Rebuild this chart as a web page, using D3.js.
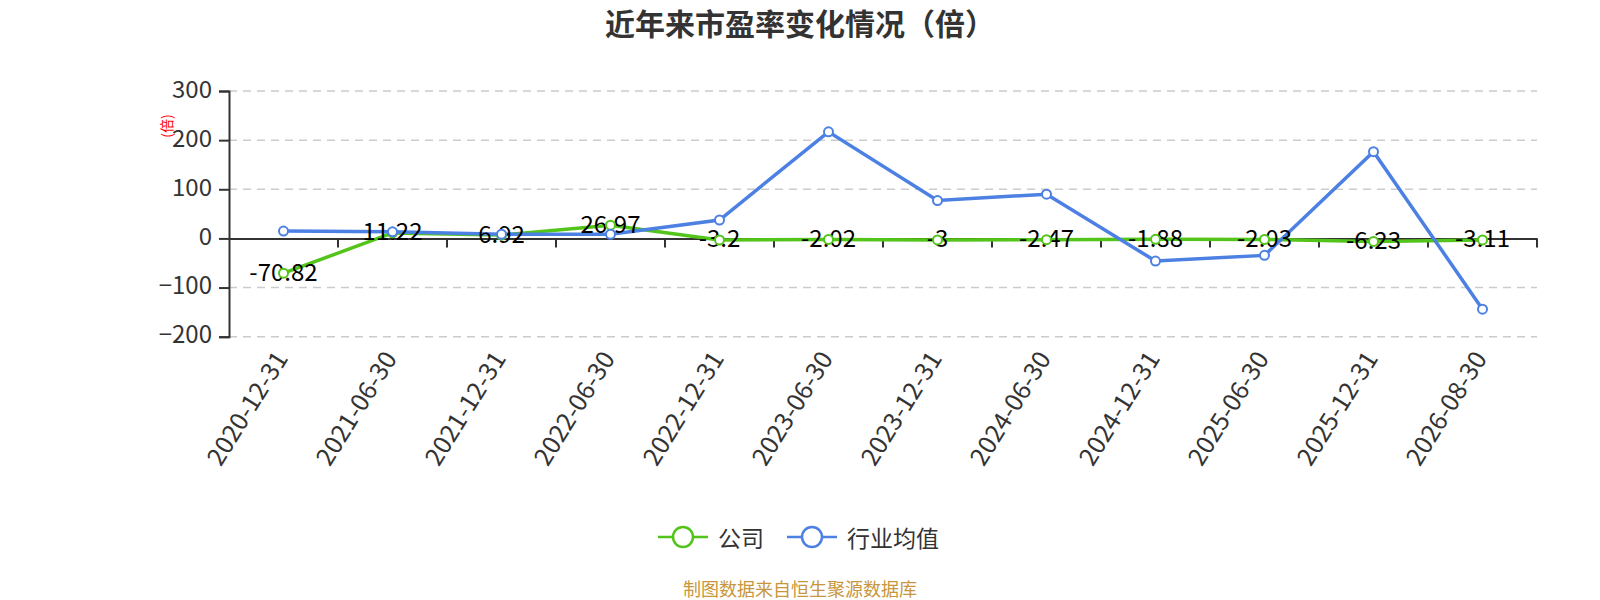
<!DOCTYPE html>
<html>
<head>
<meta charset="utf-8">
<script src="https://cdn.jsdelivr.net/npm/d3@7"></script>
<style>
  body { margin: 0; background: #fff; }
  svg text { font-family: "Noto Sans CJK SC", "Noto Sans", sans-serif; }
</style>
</head>
<body>
<div id="chart"></div>
<script>
// categories and series
var dates = ["2020-12-31", "2021-06-30", "2021-12-31", "2022-06-30", "2022-12-31", "2023-06-30",
    "2023-12-31", "2024-06-30", "2024-12-31", "2025-06-30", "2025-12-31", "2026-08-30"];
var company = [-70.82, 11.22, 6.92, 26.97, -3.2, -2.02, -3, -2.47, -1.88, -2.03, -6.23, -3.11];
var industry = [15, 13.5, 8.5, 8.5, 37.5, 217, 77, 90, -46, -34.5, 176.5, -144];
var yTicks = [-200, -100, 0, 100, 200, 300];
var seriesNames = ["公司", "行业均值"];

(function () {
    "use strict";

    var W = 1600, H = 600;
    var left = 229, right = 1537, top = 91, bottom = 336.7;
    var green = "#52c41a", blue = "#4d80e3";

    var svg = d3.select("#chart").append("svg")
        .attr("width", W).attr("height", H);

    var x = d3.scaleBand().domain(dates).range([left, right]);
    var y = d3.scaleLinear().domain([-200, 300]).range([bottom, top]);
    var cx = function (d, i) { return x(dates[i]) + x.bandwidth() / 2; };

    // title
    svg.append("text")
        .attr("x", 800).attr("y", 35)
        .attr("text-anchor", "middle")
        .style("font-size", "30px").style("font-weight", "bold")
        .style("fill", "#333")
        .text("近年来市盈率变化情况（倍）");

    // grid lines
    svg.append("g").selectAll("line")
        .data(yTicks.filter(function (t) { return t !== 0; }))
        .enter().append("line")
        .attr("x1", left).attr("x2", right)
        .attr("y1", function (d) { return y(d); })
        .attr("y2", function (d) { return y(d); })
        .attr("stroke", "#ccc").attr("stroke-width", 1.5)
        .attr("stroke-dasharray", "8,6");

    // y axis
    var yAxis = svg.append("g")
        .attr("transform", "translate(" + left + ",0)")
        .call(d3.axisLeft(y).tickValues(yTicks).tickSize(10).tickPadding(7));
    yAxis.select(".domain").attr("stroke", "#333").attr("stroke-width", 2);
    yAxis.selectAll(".tick line").attr("stroke", "#333").attr("stroke-width", 2);
    yAxis.selectAll(".tick text")
        .style("font-size", "24px").style("fill", "#333")
        .attr("dy", "0.25em");

    // y axis name
    svg.append("text")
        .attr("transform", "translate(166,126) rotate(-90)")
        .attr("text-anchor", "middle")
        .attr("dominant-baseline", "central")
        .style("font-size", "14px").style("fill", "red")
        .text("(倍)");

    // x axis on zero
    var xAxis = svg.append("g")
        .attr("transform", "translate(0," + y(0) + ")")
        .call(d3.axisBottom(x).tickSizeOuter(0).tickSize(0).tickFormat(""));
    xAxis.select(".domain").attr("stroke", "#333").attr("stroke-width", 2);
    xAxis.selectAll(".tick").remove();

    // ticks at band boundaries
    var bounds = dates.map(function (d) { return x(d); }).concat([right]).slice(1);
    svg.append("g").selectAll("line")
        .data(bounds).enter().append("line")
        .attr("x1", function (d) { return d; }).attr("x2", function (d) { return d; })
        .attr("y1", y(0)).attr("y2", y(0) + 9)
        .attr("stroke", "#333").attr("stroke-width", 2);

    // x labels below the grid
    svg.append("g").selectAll("text")
        .data(dates).enter().append("text")
        .attr("transform", function (d) {
            return "translate(" + (x(d) + x.bandwidth() / 2 - 4) + "," + (bottom + 16) + ") rotate(-58)";
        })
        .attr("text-anchor", "end")
        .attr("dominant-baseline", "central")
        .style("font-size", "25px").style("fill", "#333")
        .text(function (d) { return d; });

    // lines
    var line = d3.line()
        .x(function (d, i) { return cx(d, i); })
        .y(function (d) { return y(d); });

    svg.append("path").datum(company)
        .attr("d", line).attr("fill", "none")
        .attr("stroke", green).attr("stroke-width", 3.5);
    svg.append("path").datum(industry)
        .attr("d", line).attr("fill", "none")
        .attr("stroke", blue).attr("stroke-width", 3.5);

    // company data labels
    svg.append("g").selectAll("text")
        .data(company).enter().append("text")
        .attr("x", cx)
        .attr("y", function (d) { return y(d) - 3; })
        .attr("text-anchor", "middle")
        .attr("dominant-baseline", "central")
        .style("font-size", "24px").style("fill", "#000")
        .text(function (d) { return d; });

    // points
    [[company, green], [industry, blue]].forEach(function (s) {
        svg.append("g").selectAll("circle")
            .data(s[0]).enter().append("circle")
            .attr("cx", cx)
            .attr("cy", function (d) { return y(d); })
            .attr("r", 4.5)
            .attr("fill", "#fff")
            .attr("stroke", s[1]).attr("stroke-width", 2);
    });

    // legend
    var legend = svg.append("g");
    var legX = [658, 787];
    [green, blue].forEach(function (c, i) {
        var g = legend.append("g").attr("transform", "translate(" + legX[i] + ",537)");
        g.append("line").attr("x1", 0).attr("x2", 50)
            .attr("stroke", c).attr("stroke-width", 2.5);
        g.append("circle").attr("cx", 25).attr("r", 10)
            .attr("fill", "#fff").attr("stroke", c).attr("stroke-width", 2.5);
        g.append("text").attr("x", 60)
            .attr("dominant-baseline", "central")
            .style("font-size", "23px").style("fill", "#333")
            .text(seriesNames[i]);
    });

    // source note
    svg.append("text")
        .attr("x", 800).attr("y", 588)
        .attr("text-anchor", "middle")
        .attr("dominant-baseline", "central")
        .style("font-size", "18px").style("fill", "#c8963c")
        .text("制图数据来自恒生聚源数据库");
})();
</script>
</body>
</html>
